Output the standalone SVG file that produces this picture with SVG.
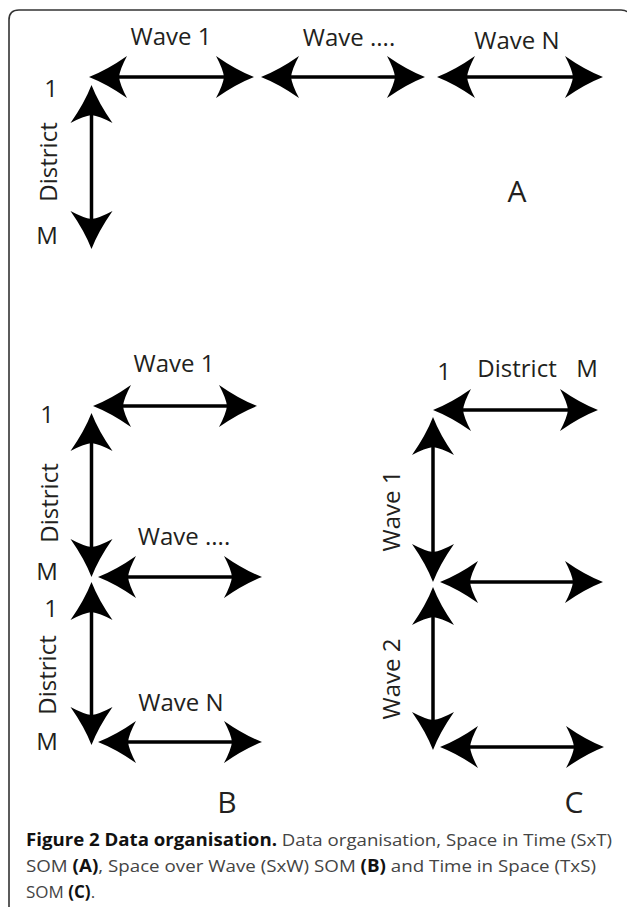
<svg xmlns="http://www.w3.org/2000/svg" width="627" height="909" viewBox="0 0 627 909">
<style>
.lbl{font-family:"Open Sans","Noto Sans",sans-serif;font-size:24px;fill:#231f20;text-anchor:middle}
.big{font-family:"Open Sans","Noto Sans",sans-serif;font-size:30px;fill:#231f20;text-anchor:middle}
.cap{font-family:"Open Sans","Noto Sans",sans-serif;font-size:17px;fill:#444}
.b{font-weight:bold;fill:#111}
.ax{stroke:#000;stroke-width:3.5;fill:none;marker-start:url(#ah);marker-end:url(#ah)}
</style>
<defs>
<marker id="ah" markerUnits="userSpaceOnUse" viewBox="-10 -22 42 44" markerWidth="42" markerHeight="44" refX="0" refY="0" orient="auto-start-reverse">
<path d="M30,0 Q12,-7 -8,-21 Q-1,-8 0,0 Q-1,8 -8,21 Q12,7 30,0Z" fill="#000"/>
</marker>
</defs>
<rect width="627" height="909" fill="#fff"/>
<path id="frame" d="M9,907 V20 Q9,10 19,10 H621 Q626,10 627,12" fill="none" stroke="#333" stroke-width="1.6"/>

<g id="connectors">
<line class="ax" x1="119" y1="77" x2="224" y2="77"/>
<line class="ax" x1="291" y1="77" x2="395" y2="77"/>
<line class="ax" x1="467" y1="77" x2="573" y2="77"/>
<line class="ax" x1="91.5" y1="115" x2="91.5" y2="219"/>

<line class="ax" x1="123" y1="406" x2="227" y2="406"/>
<line class="ax" x1="91.5" y1="443" x2="91.5" y2="547"/>
<line class="ax" x1="128" y1="577" x2="232" y2="577"/>
<line class="ax" x1="91.5" y1="612" x2="91.5" y2="715"/>
<line class="ax" x1="128" y1="742" x2="232" y2="742"/>

<line class="ax" x1="463" y1="410" x2="568" y2="410"/>
<line class="ax" x1="433" y1="447" x2="433" y2="552"/>
<line class="ax" x1="470" y1="582" x2="573" y2="582"/>
<line class="ax" x1="433" y1="617" x2="433" y2="720"/>
<line class="ax" x1="470" y1="747" x2="574" y2="747"/>
</g>

<g id="panelA">
<text class="lbl" x="171" y="45">Wave 1</text>
<text class="lbl" x="349" y="46">Wave ....</text>
<text class="lbl" x="517" y="49">Wave N</text>
<text class="lbl" x="51" y="97">1</text>
<text class="lbl" transform="translate(57,162) rotate(-90)">District</text>
<text class="lbl" x="47" y="244">M</text>
<text class="big" x="517" y="202">A</text>
</g>

<g id="panelB">
<text class="lbl" x="174" y="372">Wave 1</text>
<text class="lbl" x="47" y="423">1</text>
<text class="lbl" transform="translate(58,503) rotate(-90)">District</text>
<text class="lbl" x="184" y="545">Wave ....</text>
<text class="lbl" x="47" y="580">M</text>
<text class="lbl" x="51" y="617">1</text>
<text class="lbl" transform="translate(56,675) rotate(-90)">District</text>
<text class="lbl" x="181" y="711">Wave N</text>
<text class="lbl" x="47" y="750">M</text>
<text class="big" x="227" y="813">B</text>
</g>

<g id="panelC">
<text class="lbl" x="444" y="380">1</text>
<text class="lbl" x="517" y="377">District</text>
<text class="lbl" x="587" y="377">M</text>
<text class="lbl" transform="translate(400,511) rotate(-90)">Wave 1</text>
<text class="lbl" transform="translate(400,679) rotate(-90)">Wave 2</text>
<text class="big" x="574" y="813">C</text>
</g>

<g id="caption">
<text class="cap" x="26" y="846" textLength="586" lengthAdjust="spacingAndGlyphs"><tspan class="b">Figure 2 Data organisation.</tspan> Data organisation, Space in Time (SxT)</text>
<text class="cap" x="26" y="872" textLength="570" lengthAdjust="spacingAndGlyphs">SOM <tspan class="b">(A)</tspan>, Space over Wave (SxW) SOM <tspan class="b">(B)</tspan> and Time in Space (TxS)</text>
<text class="cap" x="26" y="898">SOM <tspan class="b">(C)</tspan>.</text>
</g>
</svg>
